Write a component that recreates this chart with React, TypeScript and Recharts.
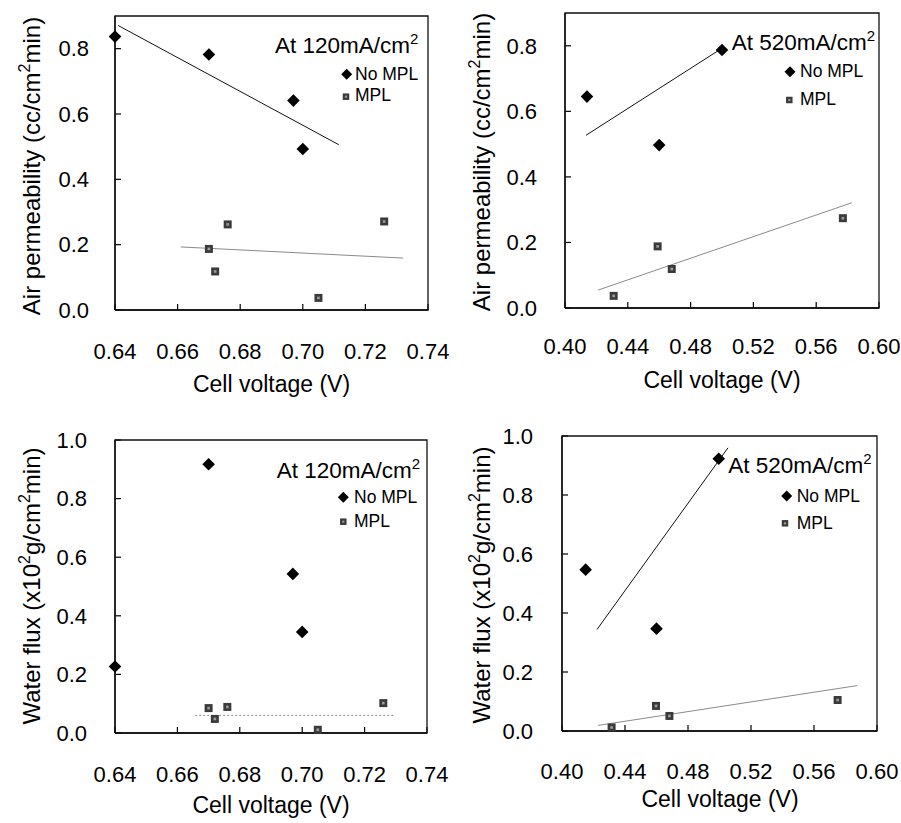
import React from 'react';
import { ScatterChart, Scatter, XAxis, YAxis, Label, Customized } from 'recharts';

const FONT = '"Liberation Sans", Arial, Helvetica, sans-serif';

// axis ticks
const ticks120 = [0.64, 0.66, 0.68, 0.7, 0.72, 0.74];
const ticks520 = [0.4, 0.44, 0.48, 0.52, 0.56, 0.6];
const airTicks = [0, 0.2, 0.4, 0.6, 0.8];
const fluxTicks = [0, 0.2, 0.4, 0.6, 0.8, 1.0];

// air permeability at 120 mA/cm2
const air120NoMplV = [0.64, 0.67, 0.697, 0.7];
const air120NoMpl = [0.837, 0.782, 0.641, 0.493];
const air120MplV = [0.67, 0.672, 0.676, 0.705, 0.726];
const air120Mpl = [0.187, 0.118, 0.262, 0.037, 0.271];
const air120NoMplFitV = [0.641, 0.7115];
const air120NoMplFit = [0.871, 0.506];
const air120MplFitV = [0.661, 0.732];
const air120MplFit = [0.193, 0.159];

// air permeability at 520 mA/cm2
const air520NoMplV = [0.414, 0.46, 0.5];
const air520NoMpl = [0.645, 0.497, 0.787];
const air520MplV = [0.431, 0.459, 0.468, 0.577];
const air520Mpl = [0.037, 0.188, 0.119, 0.274];
const air520NoMplFitV = [0.4134, 0.5005];
const air520NoMplFit = [0.527, 0.794];
const air520MplFitV = [0.421, 0.5826];
const air520MplFit = [0.0545, 0.321];

// water flux at 120 mA/cm2
const flux120NoMplV = [0.64, 0.67, 0.697, 0.7];
const flux120NoMpl = [0.227, 0.917, 0.543, 0.345];
const flux120MplV = [0.67, 0.672, 0.676, 0.705, 0.726];
const flux120Mpl = [0.085, 0.048, 0.089, 0.011, 0.102];
const flux120MplFitV = [0.6657, 0.7297];
const flux120MplFit = [0.06, 0.06];

// water flux at 520 mA/cm2
const flux520NoMplV = [0.415, 0.46, 0.4995];
const flux520NoMpl = [0.547, 0.347, 0.923];
const flux520MplV = [0.4315, 0.4597, 0.4682, 0.575];
const flux520Mpl = [0.012, 0.085, 0.051, 0.105];
const flux520NoMplFitV = [0.4222, 0.5054];
const flux520NoMplFit = [0.344, 0.96];
const flux520MplFitV = [0.4229, 0.5875];
const flux520MplFit = [0.019, 0.154];

const pts = (xs: number[], ys: number[]) => xs.map((x, i) => ({ x, y: ys[i] }));

// closed box around the whole axis domain
const frame = (xd: [number, number], yd: [number, number]) => [
  { x: xd[0], y: yd[0] },
  { x: xd[1], y: yd[0] },
  { x: xd[1], y: yd[1] },
  { x: xd[0], y: yd[1] },
  { x: xd[0], y: yd[0] },
];

const Diamond = ({ cx, cy, r = 6.3 }: any) => (
  <polygon points={`${cx},${cy - r} ${cx + r},${cy} ${cx},${cy + r} ${cx - r},${cy}`} fill="#000" />
);

const Square = ({ cx, cy, s = 8 }: any) => {
  const h = s / 2;
  const q = s / 6;
  return (
    <g>
      <polygon
        points={`${cx - h},${cy - h} ${cx + h},${cy - h} ${cx + h},${cy + h} ${cx - h},${cy + h}`}
        fill="#3a3a3a"
      />
      <polygon
        points={`${cx - q},${cy - q} ${cx + q},${cy - q} ${cx + q},${cy + q} ${cx - q},${cy + q}`}
        fill="#9a9a9a"
      />
    </g>
  );
};

const NoShape = () => <g />;

const tickStyle = { fill: '#000', fontSize: 22, fontFamily: FONT };
const SOLID = '3000 1';

function Panel(p: any) {
  const xDomain: [number, number] = [p.xTicks[0], p.xTicks[p.xTicks.length - 1]];
  const yDomain: [number, number] = [0, p.yMax];
  const fmtX = (v: number) => v.toFixed(2);
  const fmtY = (v: number) => v.toFixed(1);
  const lg = p.legend;
  return (
    <div style={{ position: 'absolute', left: p.left, top: p.top }}>
      <ScatterChart width={450} height={410} margin={p.margin}>
        <XAxis
          type="number"
          dataKey="x"
          domain={xDomain}
          ticks={p.xTicks}
          tickFormatter={fmtX}
          height={p.xAxisHeight}
          tickSize={-6}
          tickMargin={p.xTickMargin}
          stroke="#000"
          axisLine={{ stroke: '#000', strokeWidth: 1.3, strokeDasharray: SOLID }}
          tickLine={{ stroke: '#000', strokeWidth: 1.2, strokeDasharray: '50 1' }}
          tick={tickStyle}
        >
          <Label
            content={() => (
              <text x={p.xTitle[0]} y={p.xTitle[1]} textAnchor="middle" fontSize={23} fontFamily={FONT} fill="#000">
                Cell voltage (V)
              </text>
            )}
          />
        </XAxis>
        <YAxis
          type="number"
          dataKey="y"
          domain={yDomain}
          ticks={p.yTicks}
          tickFormatter={fmtY}
          width={p.yAxisWidth}
          tickSize={-6}
          tickMargin={p.yTickMargin}
          stroke="#000"
          axisLine={{ stroke: '#000', strokeWidth: 1.3, strokeDasharray: SOLID }}
          tickLine={{ stroke: '#000', strokeWidth: 1.2, strokeDasharray: '50 1' }}
          tick={tickStyle}
        >
          <Label
            content={() => (
              <text
                x={p.yTitle[0]}
                y={p.yTitle[1]}
                transform={`rotate(-90 ${p.yTitle[0]} ${p.yTitle[1]})`}
                textAnchor="middle"
                fontSize={24}
                fontFamily={FONT}
                fill="#000"
              >
                {p.yTitleParts.map((part: string, i: number) =>
                  i % 2 === 1 ? (
                    <tspan key={i} dy={-10} fontSize={16}>
                      {part}
                    </tspan>
                  ) : (
                    <tspan key={i} dy={i === 0 ? 0 : 10}>
                      {part}
                    </tspan>
                  )
                )}
              </text>
            )}
          />
        </YAxis>
        <Scatter
          data={frame(xDomain, yDomain)}
          line={{ stroke: '#111', strokeWidth: 1.3, strokeDasharray: SOLID }}
          shape={NoShape}
          legendType="none"
          isAnimationActive={false}
        />
        {p.noMplFit && (
          <Scatter
            data={p.noMplFit}
            line={{ stroke: '#111', strokeWidth: 1 }}
            shape={NoShape}
            legendType="none"
            isAnimationActive={false}
          />
        )}
        {p.mplFit && (
          <Scatter
            data={p.mplFit}
            line={{ stroke: '#8a8a8a', strokeWidth: 1, strokeDasharray: p.mplDash || SOLID }}
            shape={NoShape}
            legendType="none"
            isAnimationActive={false}
          />
        )}
        <Scatter name="No MPL" data={p.noMpl} shape={Diamond} isAnimationActive={false} />
        <Scatter name="MPL" data={p.mpl} shape={Square} isAnimationActive={false} />
        <Customized
          component={() => (
            <g fontFamily={FONT} fill="#000">
              <text x={lg.title[0]} y={lg.title[1]} fontSize={22.5}>
                {p.current}mA/cm
                <tspan dy={-9} fontSize={15}>
                  2
                </tspan>
              </text>
              <Diamond cx={lg.noMark[0]} cy={lg.noMark[1]} r={5.5} />
              <text x={lg.noText[0]} y={lg.noText[1]} fontSize={17.5}>
                No MPL
              </text>
              <Square cx={lg.mplMark[0]} cy={lg.mplMark[1]} s={6.5} />
              <text x={lg.mplText[0]} y={lg.mplText[1]} fontSize={17.5}>
                MPL
              </text>
            </g>
          )}
        />
      </ScatterChart>
    </div>
  );
}

const airTitle = ['Air permeability (cc/cm', '2', 'min)'];
const fluxTitle = ['Water flux (x10', '2', 'g/cm', '2', 'min)'];

export default function App() {
  return (
    <div style={{ position: 'absolute', left: 0, top: 0, width: 901, height: 823, background: '#fff' }}>
      <Panel
        left={0}
        top={0}
        margin={{ top: 16, right: 22, bottom: 0, left: 0 }}
        yAxisWidth={115}
        xAxisHeight={100}
        xTickMargin={39}
        yTickMargin={32}
        xTicks={ticks120}
        yTicks={airTicks}
        yMax={0.9}
        xTitle={[271.5, 392]}
        yTitle={[40, 166]}
        yTitleParts={airTitle}
        current="At 120"
        legend={{ title: [275, 53], noMark: [346.7, 74.3], noText: [355, 80], mplMark: [346, 96.7], mplText: [355, 101] }}
        noMpl={pts(air120NoMplV, air120NoMpl)}
        mpl={pts(air120MplV, air120Mpl)}
        noMplFit={pts(air120NoMplFitV, air120NoMplFit)}
        mplFit={pts(air120MplFitV, air120MplFit)}
      />
      <Panel
        left={450}
        top={0}
        margin={{ top: 13, right: 21, bottom: 0, left: 0 }}
        yAxisWidth={115}
        xAxisHeight={102}
        xTickMargin={36}
        yTickMargin={34}
        xTicks={ticks520}
        yTicks={airTicks}
        yMax={0.9}
        xTitle={[272, 388]}
        yTitle={[40, 162]}
        yTitleParts={airTitle}
        current="At 520"
        legend={{ title: [281.7, 50], noMark: [340, 71.7], noText: [350, 77.3], mplMark: [339.3, 100], mplText: [350, 105.3] }}
        noMpl={pts(air520NoMplV, air520NoMpl)}
        mpl={pts(air520MplV, air520Mpl)}
        noMplFit={pts(air520NoMplFitV, air520NoMplFit)}
        mplFit={pts(air520MplFitV, air520MplFit)}
      />
      <Panel
        left={0}
        top={420}
        margin={{ top: 20, right: 23, bottom: 0, left: 0 }}
        yAxisWidth={115}
        xAxisHeight={97}
        xTickMargin={39}
        yTickMargin={34}
        xTicks={ticks120}
        yTicks={fluxTicks}
        yMax={1.0}
        xTitle={[271, 393]}
        yTitle={[40, 166]}
        yTitleParts={fluxTitle}
        current="At 120"
        legend={{ title: [276.7, 58.3], noMark: [343.3, 77.3], noText: [354, 82.7], mplMark: [343.3, 101.7], mplText: [354, 107.3] }}
        noMpl={pts(flux120NoMplV, flux120NoMpl)}
        mpl={pts(flux120MplV, flux120Mpl)}
        mplFit={pts(flux120MplFitV, flux120MplFit)}
        mplDash="2 2"
      />
      <Panel
        left={450}
        top={420}
        margin={{ top: 16, right: 23, bottom: 0, left: 0 }}
        yAxisWidth={112}
        xAxisHeight={99}
        xTickMargin={38}
        yTickMargin={35}
        xTicks={ticks520}
        yTicks={fluxTicks}
        yMax={1.0}
        xTitle={[270, 387]}
        yTitle={[40, 165]}
        yTitleParts={fluxTitle}
        current="At 520"
        legend={{ title: [278.3, 52.7], noMark: [336.7, 76], noText: [346.7, 81.7], mplMark: [335, 103.3], mplText: [346.7, 109] }}
        noMpl={pts(flux520NoMplV, flux520NoMpl)}
        mpl={pts(flux520MplV, flux520Mpl)}
        noMplFit={pts(flux520NoMplFitV, flux520NoMplFit)}
        mplFit={pts(flux520MplFitV, flux520MplFit)}
      />
    </div>
  );
}
